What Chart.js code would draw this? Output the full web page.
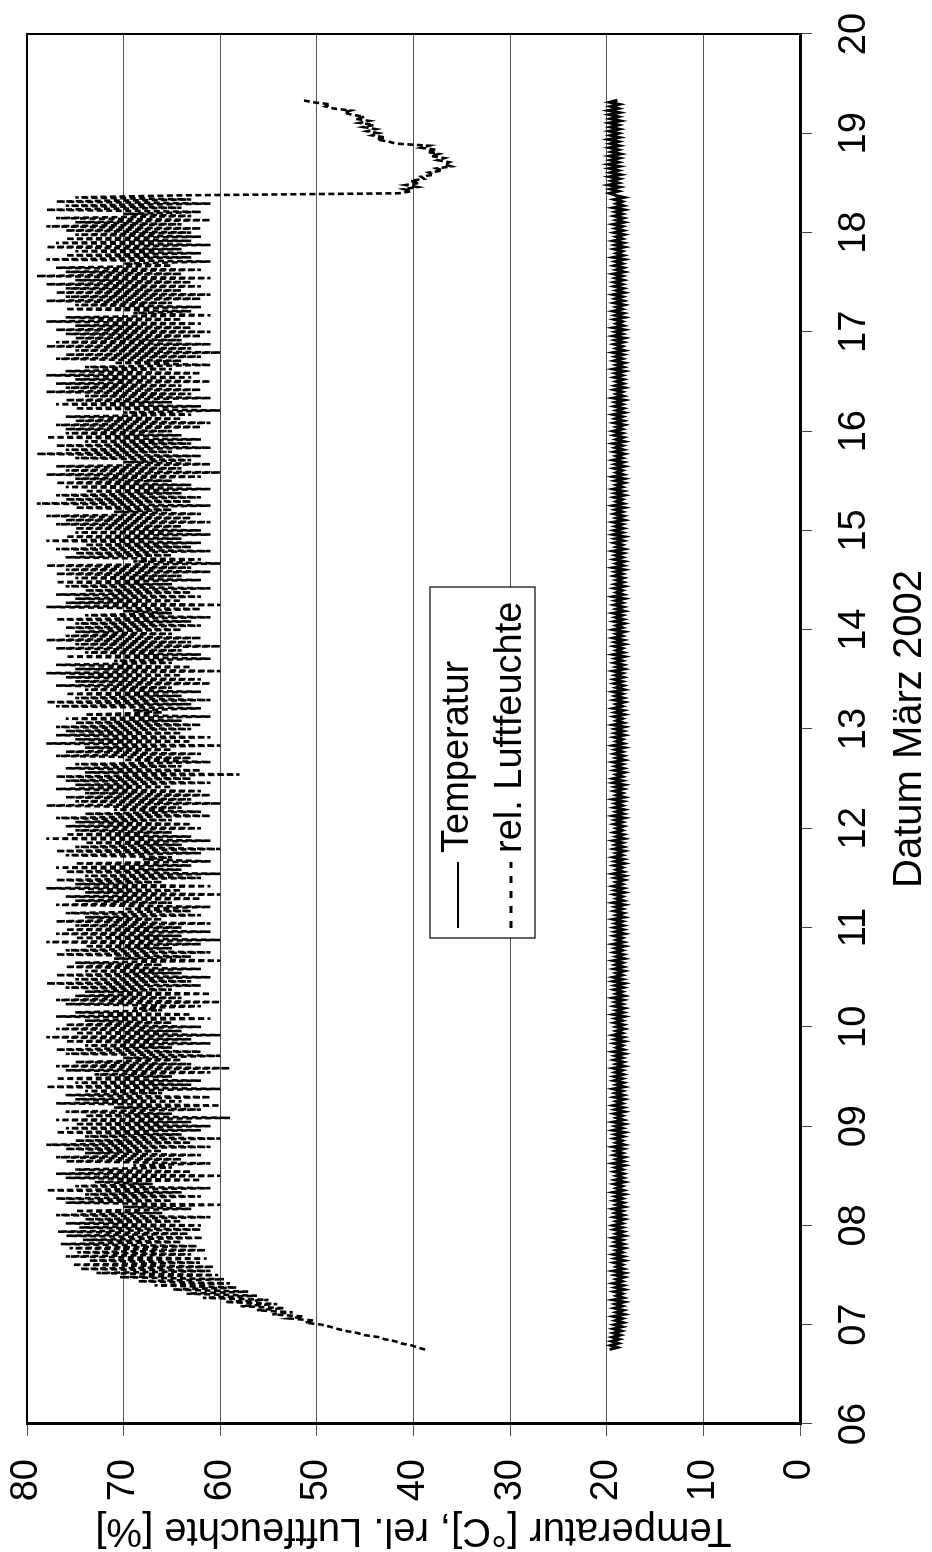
<!DOCTYPE html>
<html>
<head>
<meta charset="utf-8">
<title>Temperatur und rel. Luftfeuchte, März 2002</title>
<script src="https://cdn.jsdelivr.net/npm/chart.js@4.4.1/dist/chart.umd.min.js"></script>
<style>
  html, body { margin: 0; padding: 0; background: #fff; overflow: hidden; }
  /* chart is drawn landscape, then turned by 90deg like the scanned page */
  #wrap {
    position: absolute; left: 0; top: 0;
    width: 1552px; height: 932px;
    transform-origin: 0 0;
    transform: translate(0, 1552px) rotate(-90deg);
  }
</style>
</head>
<body>
<div id="wrap"><canvas id="climateChart" width="1552" height="932"></canvas></div>
<script>
// Messbeginn 6.75 März 2002, halbstündliche Werte
const startDay = 6.75;
const samplesPerDay = 48;

const dayLabels = ["06", "07", "08", "09", "10", "11", "12", "13", "14", "15", "16", "17", "18", "19", "20"];
const yTickValues = [0, 10, 20, 30, 40, 50, 60, 70, 80];

// Temperatur [°C]
const temperature = [
  // 6.75 - 6.98
  19.7, 18.9, 19.6, 18.8, 19.5, 18.7, 19.4, 18.6, 19.3, 18.5, 19.3, 18.4,
  // 7.
  19.2, 18.3, 19.1, 18.4, 19.3, 18.2, 19.0, 18.3, 19.2, 18.4, 19.1, 18.2, 19.3, 18.3, 19.0, 18.4, 19.2, 18.2, 19.1, 18.3, 19.3, 18.4, 19.0, 18.2,
  19.1, 18.2, 19.3, 18.3, 19.0, 18.4, 19.2, 18.2, 19.1, 18.3, 19.3, 18.4, 19.0, 18.2, 19.2, 18.3, 19.1, 18.4, 19.3, 18.2, 19.0, 18.3, 19.2, 18.4,
  // 8.
  19.3, 18.4, 19.0, 18.2, 19.2, 18.3, 19.1, 18.4, 19.3, 18.2, 19.0, 18.3, 19.2, 18.4, 19.1, 18.2, 19.3, 18.3, 19.0, 18.4, 19.2, 18.2, 19.1, 18.3,
  19.0, 18.3, 19.2, 18.4, 19.1, 18.2, 19.3, 18.3, 19.0, 18.2, 19.2, 18.4, 19.1, 18.3, 19.3, 18.2, 19.0, 18.4, 19.2, 18.3, 19.1, 18.2, 19.3, 18.4,
  // 9.
  19.1, 18.2, 19.3, 18.3, 19.0, 18.4, 19.2, 18.2, 19.1, 18.3, 19.3, 18.4, 19.0, 18.2, 19.2, 18.3, 19.1, 18.4, 19.3, 18.2, 19.0, 18.3, 19.2, 18.4,
  19.2, 18.3, 19.1, 18.4, 19.3, 18.2, 19.0, 18.3, 19.2, 18.4, 19.1, 18.2, 19.3, 18.3, 19.0, 18.4, 19.2, 18.2, 19.1, 18.3, 19.3, 18.4, 19.0, 18.2,
  // 10.
  19.0, 18.3, 19.2, 18.4, 19.1, 18.2, 19.3, 18.3, 19.0, 18.2, 19.2, 18.4, 19.1, 18.3, 19.3, 18.2, 19.0, 18.4, 19.2, 18.3, 19.1, 18.2, 19.3, 18.4,
  19.3, 18.4, 19.0, 18.2, 19.2, 18.3, 19.1, 18.4, 19.3, 18.2, 19.0, 18.3, 19.2, 18.4, 19.1, 18.2, 19.3, 18.3, 19.0, 18.4, 19.2, 18.2, 19.1, 18.3,
  // 11.
  19.2, 18.3, 19.1, 18.4, 19.3, 18.2, 19.0, 18.3, 19.2, 18.4, 19.1, 18.2, 19.3, 18.3, 19.0, 18.4, 19.2, 18.2, 19.1, 18.3, 19.3, 18.4, 19.0, 18.2,
  19.1, 18.2, 19.3, 18.3, 19.0, 18.4, 19.2, 18.2, 19.1, 18.3, 19.3, 18.4, 19.0, 18.2, 19.2, 18.3, 19.1, 18.4, 19.3, 18.2, 19.0, 18.3, 19.2, 18.4,
  // 12.
  19.0, 18.3, 19.2, 18.4, 19.1, 18.2, 19.3, 18.3, 19.0, 18.2, 19.2, 18.4, 19.1, 18.3, 19.3, 18.2, 19.0, 18.4, 19.2, 18.3, 19.1, 18.2, 19.3, 18.4,
  19.3, 18.4, 19.0, 18.2, 19.2, 18.3, 19.1, 18.4, 19.3, 18.2, 19.0, 18.3, 19.2, 18.4, 19.1, 18.2, 19.3, 18.3, 19.0, 18.4, 19.2, 18.2, 19.1, 18.3,
  // 13.
  19.1, 18.2, 19.3, 18.3, 19.0, 18.4, 19.2, 18.2, 19.1, 18.3, 19.3, 18.4, 19.0, 18.2, 19.2, 18.3, 19.1, 18.4, 19.3, 18.2, 19.0, 18.3, 19.2, 18.4,
  19.2, 18.3, 19.1, 18.4, 19.3, 18.2, 19.0, 18.3, 19.2, 18.4, 19.1, 18.2, 19.3, 18.3, 19.0, 18.4, 19.2, 18.2, 19.1, 18.3, 19.3, 18.4, 19.0, 18.2,
  // 14.
  19.3, 18.4, 19.0, 18.2, 19.2, 18.3, 19.1, 18.4, 19.3, 18.2, 19.0, 18.3, 19.2, 18.4, 19.1, 18.2, 19.3, 18.3, 19.0, 18.4, 19.2, 18.2, 19.1, 18.3,
  19.0, 18.3, 19.2, 18.4, 19.1, 18.2, 19.3, 18.3, 19.0, 18.2, 19.2, 18.4, 19.1, 18.3, 19.3, 18.2, 19.0, 18.4, 19.2, 18.3, 19.1, 18.2, 19.3, 18.4,
  // 15.
  19.2, 18.3, 19.1, 18.4, 19.3, 18.2, 19.0, 18.3, 19.2, 18.4, 19.1, 18.2, 19.3, 18.3, 19.0, 18.4, 19.2, 18.2, 19.1, 18.3, 19.3, 18.4, 19.0, 18.2,
  19.1, 18.2, 19.3, 18.3, 19.0, 18.4, 19.2, 18.2, 19.1, 18.3, 19.3, 18.4, 19.0, 18.2, 19.2, 18.3, 19.1, 18.4, 19.3, 18.2, 19.0, 18.3, 19.2, 18.4,
  // 16.
  19.3, 18.4, 19.0, 18.2, 19.2, 18.3, 19.1, 18.4, 19.3, 18.2, 19.0, 18.3, 19.2, 18.4, 19.1, 18.2, 19.3, 18.3, 19.0, 18.4, 19.2, 18.2, 19.1, 18.3,
  19.0, 18.3, 19.2, 18.4, 19.1, 18.2, 19.3, 18.3, 19.0, 18.2, 19.2, 18.4, 19.1, 18.3, 19.3, 18.2, 19.0, 18.4, 19.2, 18.3, 19.1, 18.2, 19.3, 18.4,
  // 17.
  19.1, 18.2, 19.3, 18.3, 19.0, 18.4, 19.2, 18.2, 19.1, 18.3, 19.3, 18.4, 19.0, 18.2, 19.2, 18.3, 19.1, 18.4, 19.3, 18.2, 19.0, 18.3, 19.2, 18.4,
  19.2, 18.3, 19.1, 18.4, 19.3, 18.2, 19.0, 18.3, 19.2, 18.4, 19.1, 18.2, 19.3, 18.3, 19.0, 18.4, 19.2, 18.2, 19.1, 18.3, 19.3, 18.4, 19.0, 18.2,
  // 18.
  19.2, 18.3, 19.1, 18.4, 19.3, 18.2, 19.0, 18.3, 19.2, 18.4, 19.1, 18.2, 19.3, 18.3, 19.0, 18.4, 19.2, 18.2, 19.1,
  19.7, 18.8, 19.6, 18.7, 19.8, 18.8, 19.5, 18.7, 19.7, 18.6, 19.6, 18.8, 19.7, 18.7, 19.8,
  18.8, 19.6, 18.7, 19.7, 18.6, 19.5, 18.8, 19.7, 18.7, 19.6, 18.8, 19.8, 18.7, 19.6,
  // 19.
  18.8, 19.7, 18.7, 19.6, 18.8, 19.7, 18.6, 19.6, 18.8, 19.7, 18.7, 19.8, 18.8, 19.6, 18.7, 19.7, 18.9
];

// rel. Luftfeuchte [%]
const humidity = [
  // 6.75 - 6.98
  38.8, 39.6, 40.2, 41.3, 41.9, 43.0, 43.6, 45.1, 45.8, 47.0, 47.9, 48.6,
  // 7.
  49.5, 51.2, 50.3, 52.8, 51.4, 54.6, 52.5, 56.2, 53.4, 57.9, 54.1, 59.5,
  55.0, 61.8, 56.2, 63.5, 57.1, 64.9, 58.3, 66.8, 59.0, 68.5, 59.6, 70.4,
  60.2, 72.8, 61.0, 74.5, 60.7, 75.3, 62.1, 73.6, 61.4, 76.0, 63.0, 74.8,
  61.5, 75.6, 62.4, 76.5, 64.0, 74.2, 61.8, 75.9, 63.3, 76.8, 62.0, 74.6,
  // 8.
  62, 76, 64, 74, 61, 77, 66, 75, 63, 70, 60, 76, 65, 77, 62, 74, 64, 78, 61, 75, 67, 73, 62, 76,
  60, 77, 63, 75, 65, 69, 61, 76, 64, 77, 62, 74, 66, 76, 61, 78, 63, 75, 60, 74, 64, 77, 62, 76,
  // 9.
  61, 75, 63, 77, 59, 74, 65, 76, 62, 71, 60, 77, 64, 75, 61, 76, 66, 74, 60, 78, 63, 75, 62, 77,
  65, 73, 61, 76, 59, 77, 63, 75, 64, 70, 60, 76, 62, 77, 65, 74, 61, 76, 63, 78, 60, 75, 64, 77,
  // 10.
  62, 76, 65, 74, 61, 77, 63, 75, 66, 69, 62, 76, 60, 77, 64, 75, 61, 74, 65, 76, 62, 78, 63, 75,
  61, 77, 64, 74, 62, 76, 66, 75, 60, 71, 63, 77, 61, 76, 65, 74, 62, 78, 60, 75, 64, 77, 61, 76,
  // 11.
  64, 75, 61, 77, 66, 74, 62, 76, 63, 70, 61, 77, 65, 75, 62, 76, 60, 74, 64, 78, 61, 75, 66, 77,
  62, 74, 60, 76, 64, 77, 63, 75, 61, 68, 65, 76, 62, 77, 60, 75, 64, 74, 61, 78, 63, 76, 65, 75,
  // 12.
  62, 76, 63, 75, 65, 77, 61, 74, 62, 71, 64, 78, 60, 75, 63, 76, 61, 74, 62, 77, 65, 75, 61, 76,
  63, 77, 58, 74, 62, 76, 64, 75, 61, 70, 63, 77, 62, 76, 65, 74, 60, 78, 63, 75, 61, 77, 64, 76,
  // 13.
  63, 77, 62, 75, 64, 76, 61, 74, 66, 69, 62, 77, 63, 78, 61, 75, 64, 76, 62, 74, 65, 77, 61, 75,
  62, 76, 64, 78, 60, 75, 63, 77, 65, 71, 61, 76, 62, 74, 64, 77, 60, 75, 63, 78, 62, 76, 65, 75,
  // 14.
  64, 76, 62, 75, 63, 77, 61, 74, 65, 70, 62, 78, 60, 76, 64, 75, 62, 77, 63, 74, 61, 76, 65, 77,
  62, 75, 64, 77, 61, 76, 63, 78, 60, 69, 62, 76, 65, 75, 61, 77, 63, 74, 62, 78, 64, 76, 61, 75,
  // 15.
  62, 75, 64, 77, 61, 76, 63, 78, 62, 71, 65, 75, 61, 79, 63, 76, 62, 77, 64, 74, 61, 76, 63, 77,
  65, 75, 62, 78, 60, 76, 64, 77, 61, 70, 63, 75, 62, 79, 65, 76, 61, 77, 63, 74, 62, 78, 64, 76,
  // 16.
  65, 76, 62, 77, 61, 75, 64, 76, 63, 70, 60, 75, 62, 77, 65, 76, 61, 74, 63, 78, 62, 76, 64, 77,
  61, 75, 63, 78, 62, 76, 65, 74, 61, 71, 64, 77, 62, 76, 60, 75, 63, 78, 61, 77, 64, 75, 62, 76,
  // 17.
  61, 77, 63, 75, 62, 78, 64, 76, 61, 69, 63, 76, 62, 75, 65, 78, 62, 76, 61, 77, 64, 76, 62, 78,
  63, 75, 61, 79, 64, 76, 62, 77, 65, 70, 61, 78, 63, 76, 62, 75, 64, 78, 61, 77, 63, 76, 62, 75,
  // 18.
  63, 76, 62, 78, 64, 75, 61, 77, 63, 70, 62, 78, 64, 76, 61, 77, 63, 75, 64,
  41.5, 40.2, 41.0, 39.6, 40.8, 39.4, 40.3, 38.9, 39.2, 37.9, 38.4, 37.0, 37.6, 36.1, 36.8,
  36.3, 37.5, 36.8, 38.2, 37.4, 38.6, 37.6, 39.2, 38.4, 41.8, 42.6, 43.8, 42.9, 44.3,
  // 19.
  43.6, 44.8, 43.9, 45.2, 44.1, 45.6, 44.6, 46.0, 45.1, 46.4, 47.2, 46.5, 48.3, 49.1, 48.6, 50.4, 51.5
];

const FONT = "'Liberation Sans', Arial, Helvetica, sans-serif";

function toPoints(values) {
  return values.map((v, i) => ({ x: startDay + i / samplesPerDay, y: v }));
}

// Rahmen ums Diagramm + Legendenkasten
const framePlugin = {
  id: "frame",
  afterDatasetsDraw(chart) {
    const { ctx, chartArea } = chart;
    ctx.save();
    ctx.strokeStyle = "#000";
    ctx.lineWidth = 2;
    ctx.strokeRect(chartArea.left, chartArea.top, chartArea.right - chartArea.left, chartArea.bottom - chartArea.top);

    // Legende
    const bx = 614, by = 430, bw = 351, bh = 105;
    ctx.fillStyle = "#fff";
    ctx.fillRect(bx, by, bw, bh);
    ctx.lineWidth = 1.2;
    ctx.strokeRect(bx, by, bw, bh);
    const rows = [458, 511];
    chart.data.datasets.forEach((ds, i) => {
      const y = rows[i];
      ctx.beginPath();
      ctx.setLineDash(ds.legendDash || []);
      ctx.lineWidth = ds.legendWidth || 2;
      ctx.strokeStyle = "#000";
      ctx.moveTo(624, y);
      ctx.lineTo(690, y);
      ctx.stroke();
      ctx.setLineDash([]);
      ctx.fillStyle = "#000";
      ctx.font = "38px " + FONT;
      ctx.textBaseline = "middle";
      ctx.textAlign = "left";
      ctx.fillText(ds.label, 699, y);
    });
    ctx.restore();
  }
};

const tickFont = { family: FONT, size: 38, lineHeight: 1.2 };
const titleFont = { family: FONT, size: 40, lineHeight: 1.1 };

new Chart(document.getElementById("climateChart").getContext("2d"), {
  type: "line",
  data: {
    datasets: [
      {
        label: "Temperatur",
        data: toPoints(temperature),
        borderColor: "#000",
        borderWidth: 3,
        pointRadius: 0,
        tension: 0,
        fill: false,
        legendWidth: 2
      },
      {
        label: "rel. Luftfeuchte",
        data: toPoints(humidity),
        borderColor: "#000",
        borderWidth: 2.6,
        borderDash: [6, 3.5],
        pointRadius: 0,
        tension: 0,
        fill: false,
        legendDash: [7, 8],
        legendWidth: 3
      }
    ]
  },
  options: {
    responsive: false,
    animation: false,
    devicePixelRatio: 1,
    layout: { padding: { top: 27, right: 34, left: 0, bottom: 0 } },
    plugins: {
      legend: { display: false },
      tooltip: { enabled: false }
    },
    scales: {
      x: {
        type: "linear",
        min: 6,
        max: 20,
        afterFit(scale) {
          scale.height = 132;
          scale.paddingLeft = 0;
          scale.paddingRight = 0;
        },
        ticks: {
          stepSize: 1,
          autoSkip: false,
          maxRotation: 0,
          padding: 20,
          color: "#000",
          font: tickFont,
          callback: (value, index) => dayLabels[index]
        },
        grid: { drawOnChartArea: false, drawTicks: true, tickLength: 12, color: "#444", lineWidth: 1 },
        border: { display: true, color: "#000", width: 3 },
        title: { display: true, text: "Datum März 2002", color: "#000", font: titleFont, padding: 0 }
      },
      y: {
        min: 0,
        max: 80,
        afterFit(scale) {
          scale.width = 128;
          scale.paddingTop = 0;
          scale.paddingBottom = 0;
        },
        afterBuildTicks(scale) { scale.ticks = yTickValues.map(v => ({ value: v })); },
        ticks: {
          padding: 23,
          color: "#000",
          font: tickFont
        },
        grid: { color: "#555", lineWidth: 1, tickLength: 12 },
        border: { display: true, color: "#000", width: 3 },
        title: { display: true, text: "Temperatur [°C], rel. Luftfeuchte [%]", color: "#000", font: titleFont, padding: 0 }
      }
    }
  },
  plugins: [framePlugin]
});
</script>
</body>
</html>
